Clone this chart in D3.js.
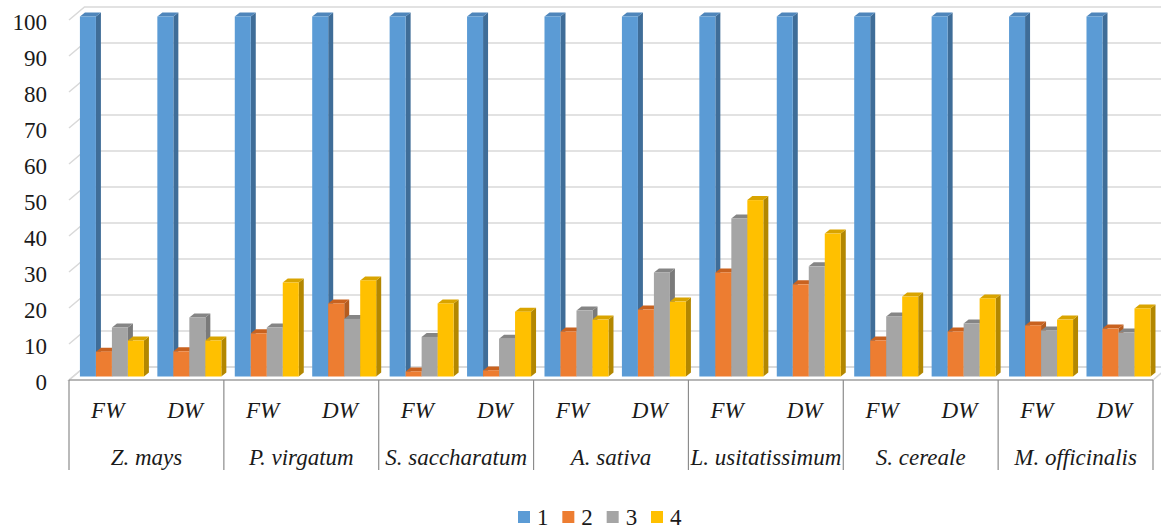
<!DOCTYPE html>
<html>
<head>
<meta charset="utf-8">
<script src="https://cdn.jsdelivr.net/npm/d3@7"></script>
<style>
  html, body { margin: 0; padding: 0; background: #ffffff; }
  svg { display: block; }
  svg text { font-family: 'Liberation Serif', 'Times New Roman', 'DejaVu Serif', serif !important; fill: #1a1a1a; }
</style>
</head>
<body>
<svg id="chart" width="1161" height="530"></svg>
<script>
// ---- data ----
const categories = ["Z. mays", "P. virgatum", "S. saccharatum", "A. sativa", "L. usitatissimum", "S. cereale", "M. officinalis"];
const subLabels = ["FW", "DW"];
const seriesNames = ["1", "2", "3", "4"];
const series1 = [100, 100, 100, 100, 100, 100, 100, 100, 100, 100, 100, 100, 100, 100];
const series2 = [6.9, 7.0, 12.0, 20.3, 1.4, 1.7, 12.5, 18.6, 28.9, 25.6, 10.0, 12.5, 14.2, 13.3];
const series3 = [13.6, 16.4, 13.6, 16.0, 11.0, 10.5, 18.3, 28.9, 43.9, 30.6, 16.7, 14.7, 12.8, 12.2];
const series4 = [10.0, 10.0, 26.1, 26.7, 20.3, 18.0, 15.8, 20.8, 49.0, 39.7, 22.2, 21.7, 15.8, 18.9];
const yTicks = [0, 10, 20, 30, 40, 50, 60, 70, 80, 90, 100];

// ---- styles ----
const FONT = "'Liberation Serif', 'Times New Roman', 'DejaVu Serif', serif";
const faceColors = [
  { front: "#5B9BD5", top: "#4F86BB", side: "#3F6D98" },
  { front: "#ED7D31", top: "#C9621F", side: "#B45C20" },
  { front: "#A5A5A5", top: "#858585", side: "#7A7A7A" },
  { front: "#FFC000", top: "#D9A400", side: "#B38700" }
];
const allSeries = [series1, series2, series3, series4];

const svg = d3.select("#chart");

// ---- geometry ----
const left = 69, right = 1153;
const backDx = 15.5, backDy = -13;   // back wall offset
const barDx = 4.2, barDy = -3.5;     // bar plane offset
const depthX = 5, depthY = -4;       // bar depth

const y = d3.scaleLinear().domain([0, 100]).range([380, 20]);
const x0 = d3.scaleBand().domain(categories).range([left, right]);
const xs = d3.scaleBand().domain(subLabels).range([0, x0.bandwidth()]);
const xb = d3.scaleBand().domain(seriesNames).range([0, xs.bandwidth()]).paddingOuter(0.42);

// ---- walls: gridlines on back wall and side wall ----
const grid = svg.append("g").attr("stroke", "#D9D9D9").attr("stroke-width", 1.5).attr("fill", "none");
yTicks.forEach(v => {
  grid.append("path").attr("d",
    `M${left},${y(v)} L${left + backDx},${y(v) + backDy} L${right + backDx},${y(v) + backDy}`);
});
// floor
grid.append("path").attr("d",
  `M${left},${y(0)} L${left + backDx},${y(0) + backDy} L${right + backDx},${y(0) + backDy} L${right},${y(0)} Z`);

// ---- y axis labels ----
const yAxis = d3.axisLeft(y).tickValues(yTicks).tickSize(0).tickPadding(3);
const ya = svg.append("g").attr("transform", "translate(50,2)").call(yAxis)
  .attr("font-family", FONT).attr("font-size", 23);
ya.select(".domain").remove();
ya.selectAll("text").style("font-family", FONT).style("font-size", "23px").attr("fill", "#1a1a1a");

// ---- bars ----
const barsG = svg.append("g");
const idx = [];
categories.forEach((c, ci) => subLabels.forEach((s, si) => idx.push({ c, s, i: ci * 2 + si })));

idx.forEach(d => {
  const gx = x0(d.c) + xs(d.s);
  seriesNames.forEach((sn, k) => {
    const v = allSeries[k][d.i];
    const bx = gx + xb(sn) + barDx;
    const bw = xb.bandwidth();
    const yt = y(v) + barDy;
    const yb = y(0) + barDy;
    const col = faceColors[k];
    const g = barsG.append("g");
    g.append("path").attr("fill", col.side).attr("d",
      `M${bx + bw},${yt} L${bx + bw + depthX},${yt + depthY} L${bx + bw + depthX},${yb + depthY} L${bx + bw},${yb} Z`);
    g.append("path").attr("fill", col.top).attr("d",
      `M${bx},${yt} L${bx + depthX},${yt + depthY} L${bx + bw + depthX},${yt + depthY} L${bx + bw},${yt} Z`);
    g.append("rect").attr("x", bx).attr("y", yt).attr("width", bw).attr("height", Math.max(0, yb - yt)).attr("fill", col.front);
  });
});

// ---- category table ----
const table = svg.append("g").attr("stroke", "#8C8C8C").attr("stroke-width", 1.2);
table.append("line").attr("x1", left).attr("x2", right).attr("y1", y(0)).attr("y2", y(0));
const sepXs = categories.map(c => x0(c)).concat([right]);
sepXs.forEach(sx => {
  table.append("line").attr("x1", sx).attr("x2", sx).attr("y1", y(0)).attr("y2", 470);
});

const labels = svg.append("g").attr("text-anchor", "middle");
idx.forEach(d => {
  labels.append("text")
    .attr("x", x0(d.c) + xs(d.s) + xs.bandwidth() / 2)
    .attr("y", 418)
    .style("font-family", FONT).style("font-style", "italic").style("font-size", "23px")
    .text(d.s);
});
categories.forEach(c => {
  labels.append("text")
    .attr("x", x0(c) + x0.bandwidth() / 2)
    .attr("y", 465)
    .style("font-family", FONT).style("font-style", "italic").style("font-size", "23px")
    .text(c);
});

// ---- legend ----
const legendX = d3.scalePoint().domain(seriesNames).range([518, 651]);
const legend = svg.append("g");
seriesNames.forEach((sn, k) => {
  legend.append("rect").attr("x", legendX(sn)).attr("y", 511).attr("width", 12).attr("height", 12).attr("fill", faceColors[k].front);
  legend.append("text").attr("x", legendX(sn) + 19).attr("y", 525)
    .style("font-family", FONT).style("font-size", "23px").text(sn);
});
</script>
</body>
</html>
